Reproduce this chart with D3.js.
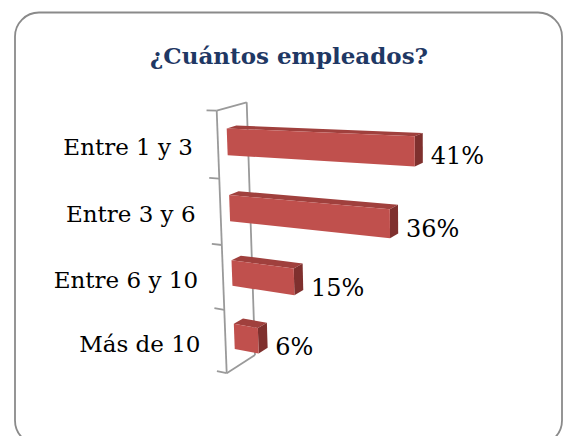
<!DOCTYPE html>
<html>
<head>
<meta charset="utf-8">
<script src="https://cdn.jsdelivr.net/npm/d3@7"></script>
<style>
  body { margin: 0; background: #fff; }
  svg { display: block; }
</style>
</head>
<body>
<script>
var categories = ["Entre 1 y 3", "Entre 3 y 6", "Entre 6 y 10", "Más de 10"];
var values = [41, 36, 15, 6];
var valueLabels = ["41%", "36%", "15%", "6%"];
var title = "¿Cuántos empleados?";

var width = 563, height = 436;

var svg = d3.select("body").append("svg")
    .attr("width", width)
    .attr("height", height);

// outer rounded frame
svg.append("rect")
    .attr("x", 15).attr("y", 12.5)
    .attr("width", 547).attr("height", 432)
    .attr("rx", 24).attr("ry", 24)
    .attr("fill", "#fff")
    .attr("stroke", "#8a8a8a")
    .attr("stroke-width", 1.8);

svg.append("text")
    .attr("x", 289).attr("y", 63.5)
    .attr("text-anchor", "middle")
    .attr("font-family", "DejaVu Serif")
    .attr("font-weight", "bold")
    .attr("font-size", 23)
    .attr("fill", "#1f3864")
    .text(title);

// scales: value -> u (0..1), category -> v (0..4), depth w (0 front .. 1 back)
var uScale = d3.scaleLinear().domain([0, 45]).range([0, 1]);
var vScale = d3.scaleBand().domain(categories).range([0, 4])
    .paddingInner(0.6).paddingOuter(0.3);

// perspective projection of the 3D box onto the page
function project(u, v, w) {
    var D = 1 - 0.1278 * u + 0.012 * v + 0.042 * w;
    return [
        (216.7 + 156.7 * u + 5.22 * v + 40.36 * w) / D,
        (110.7 - 8.6 * u + 70.09 * v - 4.1 * w) / D
    ];
}

var line = d3.line();
function face(pts) {
    return line(pts.map(function (p) { return project(p[0], p[1], p[2]); })) + "Z";
}

// left wall
var wall = svg.append("g")
    .attr("fill", "none")
    .attr("stroke", "#9a9a9a")
    .attr("stroke-width", 1.8);

wall.append("path").attr("d", line([project(0, 0, 0), project(0, 4, 0)]));
wall.append("path").attr("d", line([project(0, 0, 1), project(0, 4, 1)]));
wall.append("path").attr("d", line([project(0, 0, 0), project(0, 0, 1)]));
wall.append("path").attr("d", line([project(0, 4, 0), project(0, 4, 1)]));

wall.selectAll(".tick")
    .data(d3.range(0, 5))
    .enter().append("path")
    .attr("class", "tick")
    .attr("d", function (t) {
        return line([project(uScale(-2.5), t, 0), project(0, t, 0)]);
    });

// bars
var w0 = 0.3, w1 = 0.62;
var bars = svg.selectAll("g.bar")
    .data(categories)
    .enter().append("g")
    .attr("class", "bar");

bars.each(function (c, i) {
    var g = d3.select(this);
    var u1 = uScale(values[i]);
    var vt = vScale(c), vb = vt + vScale.bandwidth();
    g.append("path")
        .attr("d", face([[0, vt, w0], [u1, vt, w0], [u1, vt, w1], [0, vt, w1]]))
        .attr("fill", "#a0403d");
    g.append("path")
        .attr("d", face([[u1, vt, w0], [u1, vt, w1], [u1, vb, w1], [u1, vb, w0]]))
        .attr("fill", "#7f302e");
    g.append("path")
        .attr("d", face([[0, vt, w0], [u1, vt, w0], [u1, vb, w0], [0, vb, w0]]))
        .attr("fill", "#c0504d");
});

// category labels
svg.selectAll("text.cat")
    .data(categories)
    .enter().append("text")
    .attr("class", "cat")
    .attr("x", function (c) { return project(0, vScale(c) + vScale.bandwidth() / 2, 0)[0] - 25; })
    .attr("y", function (c) { return project(0, vScale(c) + vScale.bandwidth() / 2, 0)[1] + 10; })
    .attr("text-anchor", "end")
    .attr("font-family", "DejaVu Serif")
    .attr("font-size", 23)
    .attr("fill", "#000")
    .text(function (c) { return c; });

// value labels
svg.selectAll("text.val")
    .data(categories)
    .enter().append("text")
    .attr("class", "val")
    .attr("x", function (c, i) { return project(uScale(values[i]), vScale(c) + vScale.bandwidth() / 2, w1)[0] + 8; })
    .attr("y", function (c, i) { return project(uScale(values[i]), vScale(c) + vScale.bandwidth() / 2, 0)[1] + 9; })
    .attr("font-family", "DejaVu Serif")
    .attr("font-size", 24)
    .attr("fill", "#000")
    .text(function (c, i) { return valueLabels[i]; });
</script>
</body>
</html>
